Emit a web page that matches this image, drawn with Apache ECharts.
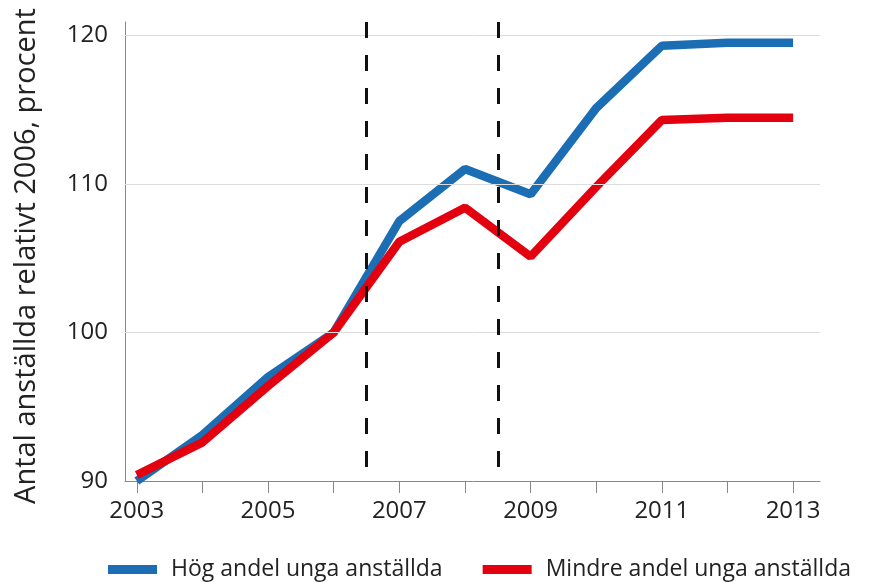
<!DOCTYPE html>
<html>
<head>
<meta charset="utf-8">
<script src="https://cdn.jsdelivr.net/npm/echarts@6/dist/echarts.min.js"></script>
<style>
  html, body { margin: 0; padding: 0; background: #fff; }
  #chart { width: 869px; height: 582px; }
</style>
</head>
<body>
<div id="chart"></div>
<script>
// år och index (2006 = 100)
const years = [2003, 2004, 2005, 2006, 2007, 2008, 2009, 2010, 2011, 2012, 2013];
const yearLabels = [2003, 2005, 2007, 2009, 2011, 2013];
const hogAndel = [90.0, 93.1, 97.0, 100.0, 107.5, 111.0, 109.3, 115.1, 119.3, 119.5, 119.5];
const mindreAndel = [90.4, 92.6, 96.4, 100.0, 106.1, 108.4, 105.1, 109.8, 114.3, 114.45, 114.45];
const yLabels = [90, 100, 110, 120];
const gridValues = [100, 110, 120];
const breakYears = [2006.5, 2008.5];

const seriesNames = ["Hög andel unga anställda", "Mindre andel unga anställda"];
const fontFam = "'Open Sans', sans-serif";

const chart = echarts.init(document.getElementById("chart"));

const option = {
  animation: false,
  grid: { left: 125, right: 49, top: 22, bottom: 101 },
  legend: {
    left: 103,
    top: 553,
    icon: "rect",
    itemWidth: 49,
    itemHeight: 9,
    itemGap: 40,
    textStyle: { fontFamily: fontFam, fontSize: 23, color: "#222", padding: [0, 0, 0, 9] },
    data: seriesNames,
  },
  xAxis: {
    type: "value",
    min: 2002.82,
    max: 2013.41,
    splitLine: { show: false },
    axisLine: { lineStyle: { color: "#888", width: 1 } },
    axisTick: { customValues: years, length: 12, lineStyle: { color: "#888" } },
    axisLabel: {
      customValues: yearLabels,
      formatter: (v) => String(v),
      fontFamily: fontFam,
      fontSize: 24,
      color: "#222",
      margin: 18,
    },
  },
  yAxis: {
    type: "value",
    min: 90,
    max: 120.9,
    interval: 10,
    name: "Antal anställda relativt 2006, procent",
    nameLocation: "middle",
    nameGap: 84,
    nameTextStyle: { fontFamily: fontFam, fontSize: 29, color: "#222", padding: [0, 9, 0, 0] },
    splitLine: { show: false },
    axisLine: { show: true, lineStyle: { color: "#888", width: 1 } },
    axisTick: { show: false },
    axisLabel: {
      customValues: yLabels,
      fontFamily: fontFam,
      fontSize: 24,
      color: "#222",
      margin: 17,
    },
  },
  series: [
    {
      // rutnät och brytlinjer
      type: "line",
      data: [],
      z: 1,
      silent: true,
      markLine: {
        silent: true,
        symbol: "none",
        label: { show: false },
        animation: false,
        data: gridValues
          .map((v) => ({ yAxis: v, lineStyle: { color: "#dcdcdc", width: 1, type: "solid" } }))
          .concat(
            breakYears.map((x) => [
              { coord: [x, 120.9], lineStyle: { color: "#111", width: 3, type: [16, 17] } },
              { coord: [x, 90.9] },
            ])
          ),
      },
    },
    {
      name: seriesNames[0],
      type: "line",
      data: years.map((y, i) => [y, hogAndel[i]]),
      symbol: "none",
      z: 3,
      lineStyle: { color: "#1b6eb4", width: 8.5 },
      itemStyle: { color: "#1b6eb4" },
    },
    {
      name: seriesNames[1],
      type: "line",
      data: years.map((y, i) => [y, mindreAndel[i]]),
      symbol: "none",
      z: 4,
      lineStyle: { color: "#e3000f", width: 8.5 },
      itemStyle: { color: "#e3000f" },
    },
  ],
};

chart.setOption(option);
</script>
</body>
</html>
